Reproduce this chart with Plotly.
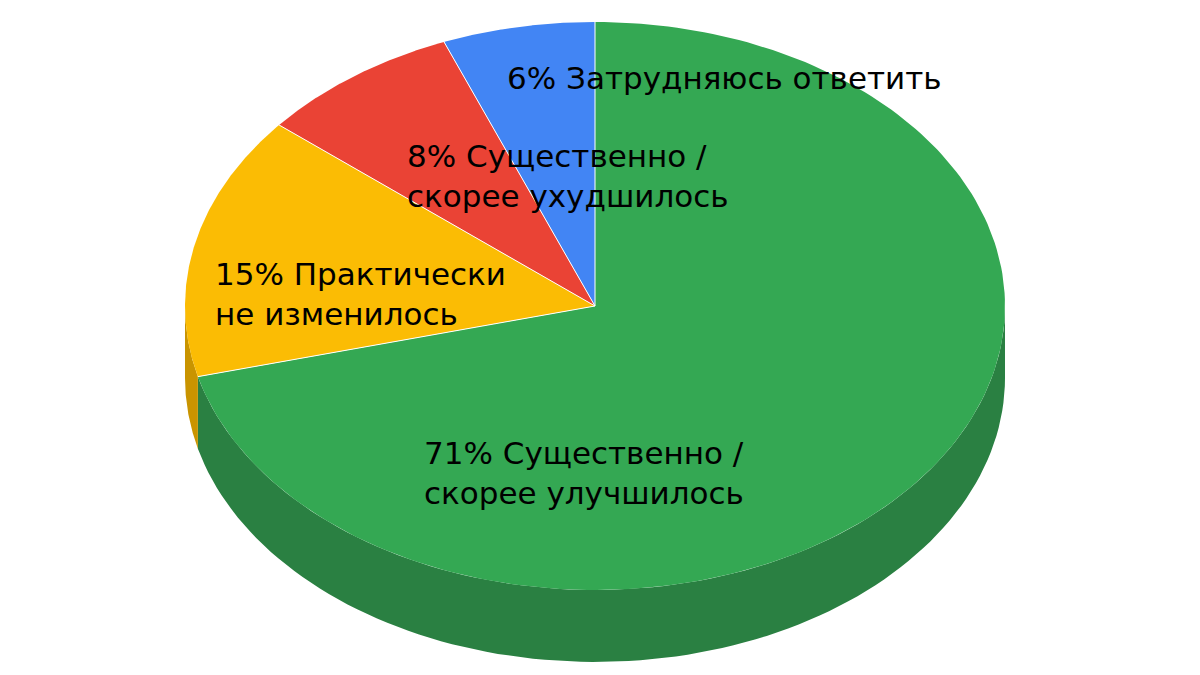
import numpy as np
import plotly.graph_objects as go

labels = ["Существенно /<br>скорее улучшилось", "Практически<br>не изменилось",
          "Существенно /<br>скорее ухудшилось", "Затрудняюсь ответить"]
values = [71, 15, 8, 6]
colors = ["#34a853", "#fbbc04", "#ea4335", "#4285f4"]
side_colors = ["#2a8042", "#c99400", "#b8352a", "#3469c3"]

# pie geometry (pixels, page has an 8px body margin)
cx, cy, rx, ry, depth = 587, 298, 410, 284, 72
label_pos = [(414, 465), (205, 286), (397, 168), (497, 70)]


def pt(deg, dz=0):
    a = np.radians(deg)
    return cx + rx * np.sin(a), cy - ry * np.cos(a) + dz


fig = go.Figure()
total = sum(values)
bounds = np.concatenate([[0], np.cumsum(values) / total * 360])

# side walls (front half only: 90..270 deg)
for i in range(len(values)):
    a0, a1 = max(bounds[i], 90), min(bounds[i + 1], 270)
    if a1 <= a0:
        continue
    t = np.linspace(a0, a1, 100)
    xs, ys = pt(t)
    xb, yb = pt(t[::-1], depth)
    fig.add_trace(go.Scatter(x=np.concatenate([xs, xb]), y=np.concatenate([ys, yb]),
                             fill="toself", fillcolor=side_colors[i], mode="lines",
                             line=dict(width=0), hoverinfo="skip", showlegend=False))

# top faces
for i in range(len(values)):
    t = np.linspace(bounds[i], bounds[i + 1], 200)
    xs, ys = pt(t)
    fig.add_trace(go.Scatter(x=np.concatenate([[cx], xs, [cx]]), y=np.concatenate([[cy], ys, [cy]]),
                             fill="toself", fillcolor=colors[i], mode="lines",
                             line=dict(width=0), hoverinfo="skip", showlegend=False))

# radial separators
for b in bounds[:-1]:
    ex, ey = pt(b)
    fig.add_trace(go.Scatter(x=[cx, ex], y=[cy, ey], mode="lines",
                             line=dict(width=1, color="white"), hoverinfo="skip", showlegend=False))

for i, (lx, ly) in enumerate(label_pos):
    fig.add_annotation(x=lx, y=ly, xanchor="left", yanchor="middle", align="left",
                       text=f"{values[i]}% {labels[i]}", showarrow=False,
                       font=dict(size=31, color="black", family="DejaVu Sans"))

fig.update_xaxes(range=[0, 1200], visible=False)
fig.update_yaxes(range=[675, 0], visible=False)
fig.update_layout(width=1200, height=675, margin=dict(l=0, r=0, t=0, b=0),
                  plot_bgcolor="white", paper_bgcolor="white")
fig.write_html("out.html")
